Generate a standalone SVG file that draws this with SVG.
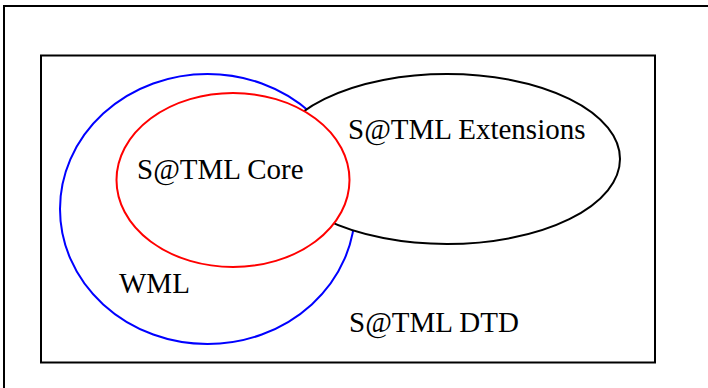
<svg xmlns="http://www.w3.org/2000/svg" width="708" height="388" viewBox="0 0 708 388">
<style>
.frame{fill:none;stroke:#000;stroke-width:2}
.shape{fill:#fff;stroke-width:2}
.lbl{font-family:"Liberation Serif","Times New Roman",serif;font-size:29px;fill:#000}
</style>
<rect width="708" height="388" fill="#fff"/>
<g id="page">
<rect class="frame" x="4" y="6" width="720" height="400"/>
</g>
<g id="dtd">
<rect class="frame" x="41" y="55.5" width="614" height="307"/>
<text class="lbl" x="349" y="332">S@TML DTD</text>
</g>
<g id="wml">
<ellipse class="shape" cx="207.5" cy="209" rx="147.5" ry="135" stroke="#0000ff"/>
<text class="lbl" x="119" y="293">WML</text>
</g>
<g id="extensions">
<ellipse class="shape" cx="447" cy="159" rx="173" ry="85" stroke="#000"/>
<text class="lbl" x="348" y="139">S@TML Extensions</text>
</g>
<g id="core">
<ellipse class="shape" cx="233" cy="180" rx="116.5" ry="87" stroke="#ff0000"/>
<text class="lbl" x="137" y="179">S@TML Core</text>
</g>
<g id="connectors"></g>
</svg>
